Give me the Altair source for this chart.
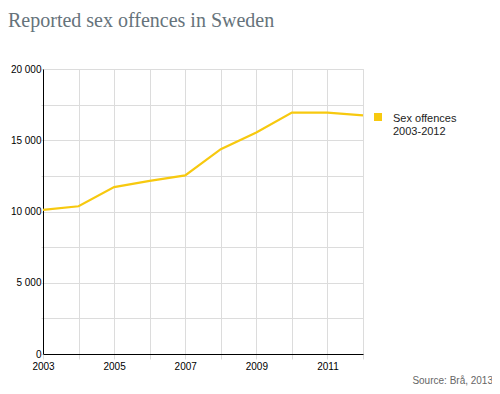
import altair as alt
import pandas as pd

years = [2003, 2004, 2005, 2006, 2007, 2008, 2009, 2010, 2011, 2012]
values = [10120, 10370, 11710, 12150, 12530, 14370, 15540, 16940, 16940, 16750]
series_lines = ["Sex offences", "2003-2012"]
y_ticks = [0, 2500, 5000, 7500, 10000, 12500, 15000, 17500, 20000]
title_text = "Reported sex offences in Sweden"
source_text = "Source: Brå, 2013"

YELLOW = "#f7c90f"
W, H = 320, 285
PAD_L, PAD_T = 35, 61

df = pd.DataFrame({"year": years, "value": values})
one = pd.DataFrame({"k": [0]})

line = alt.Chart(df).mark_line(color=YELLOW, strokeWidth=2.2).encode(
    x=alt.X(
        "year:Q",
        scale=alt.Scale(domain=[2003, 2012], nice=False, zero=False),
        axis=alt.Axis(
            values=years,
            labelExpr="datum.value % 2 == 1 ? format(datum.value, 'd') : ''",
            title=None,
            grid=True,
            gridColor="#dcdcdc",
            tickColor="#dcdcdc",
            tickSize=5,
            labelPadding=2,
            domainColor="#000000",
            labelFlush=False,
            labelOverlap=False,
        ),
    ),
    y=alt.Y(
        "value:Q",
        scale=alt.Scale(domain=[0, 20000], nice=False),
        axis=alt.Axis(
            values=y_ticks,
            labelExpr="datum.value % 5000 == 0 ? replace(format(datum.value, ','), ',', ' ') : ''",
            title=None,
            grid=True,
            gridColor="#dcdcdc",
            tickColor="#dcdcdc",
            tickSize=2,
            labelPadding=0,
            domainColor="#000000",
            labelOverlap=False,
        ),
    ),
)

title = alt.Chart(one).mark_text(
    align="left", baseline="alphabetic", font="Liberation Serif",
    fontSize=20, color="#66737b",
).encode(x=alt.value(-PAD_L), y=alt.value(-42), text=alt.value(title_text))

legend_sq = alt.Chart(one).mark_square(size=64, color=YELLOW, opacity=1).encode(
    x=alt.value(335), y=alt.value(48)
)
legend_txt = alt.Chart(one).mark_text(
    align="left", baseline="alphabetic", font="Liberation Sans",
    fontSize=11, color="#222222", lineHeight=13.5,
).encode(x=alt.value(350), y=alt.value(52.5), text=alt.value(series_lines))

source = alt.Chart(one).mark_text(
    align="right", baseline="alphabetic", font="Liberation Sans",
    fontSize=10, color="#666666",
).encode(x=alt.value(450), y=alt.value(315), text=alt.value(source_text))

chart = alt.layer(line, title, legend_sq, legend_txt, source).properties(
    width=W, height=H,
    autosize=alt.AutoSizeParams(type="none"),
    padding={"left": PAD_L, "top": PAD_T, "right": 129, "bottom": 32},
).configure_view(fill="#f5f5f5", stroke=None).configure_axis(
    labelFont="Liberation Sans", labelFontSize=11, labelColor="#000000",
    domainWidth=1,
).configure(background="#ffffff")

chart.save("out.html", embed_options={"renderer": "svg", "actions": False})
